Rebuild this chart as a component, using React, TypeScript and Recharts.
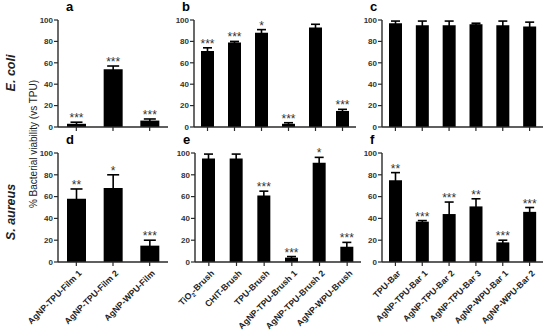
import { BarChart, Bar, XAxis, YAxis, ErrorBar, LabelList } from 'recharts';
import type { JSX } from 'react';

// categories
const filmLabels = ['AgNP-TPU-Film 1', 'AgNP-TPU-Film 2', 'AgNP-WPU-Film'];
const brushLabels = ['TiO2-Brush', 'CHIT-Brush', 'TPU-Brush', 'AgNP-TPU-Brush 1', 'AgNP-TPU-Brush 2', 'AgNP-WPU-Brush'];
const barLabels = ['TPU-Bar', 'AgNP-TPU-Bar 1', 'AgNP-TPU-Bar 2', 'AgNP-TPU-Bar 3', 'AgNP-WPU-Bar 1', 'AgNP-WPU-Bar 2'];
const yTicks = [0, 20, 40, 60, 80, 100];

// E. coli
const ecoliFilm = [3, 54, 6];
const ecoliFilmErr = [1.5, 3, 1.5];
const ecoliFilmStars = ['***', '***', '***'];
const ecoliBrush = [71, 79, 88, 3, 93, 15];
const ecoliBrushErr = [3, 1, 3, 1, 3, 1.5];
const ecoliBrushStars = ['***', '***', '*', '***', '', '***'];
const ecoliBar = [97, 95, 95, 96, 95, 94];
const ecoliBarErr = [2, 4, 4, 1, 4, 4];
const ecoliBarStars = ['', '', '', '', '', ''];

// S. aureus
const aureusFilm = [58, 68, 15];
const aureusFilmErr = [9, 12, 5];
const aureusFilmStars = ['**', '*', '***'];
const aureusBrush = [95, 95, 61, 4, 91, 14];
const aureusBrushErr = [4, 4, 4, 1, 5, 4];
const aureusBrushStars = ['', '', '***', '***', '*', '***'];
const aureusBar = [75, 37, 44, 51, 18, 46];
const aureusBarErr = [7, 1, 11, 7, 2, 4];
const aureusBarStars = ['**', '***', '***', '**', '***', '***'];

const FONT = '"Liberation Sans", Arial, sans-serif';
const AXIS = '#2a2a2a';

interface TickProps {
  x?: number;
  y?: number;
  payload?: { value?: string };
}

function NoTick(): JSX.Element {
  return <g />;
}

function RotTick({ x = 0, y = 0, payload }: TickProps): JSX.Element {
  const label = String(payload?.value ?? '');
  const isTio = label.startsWith('TiO2');
  return (
    <g transform={`translate(${x + 3},${y + 3}) rotate(-45)`}>
      <text x={0} y={0} dy={4} textAnchor="end" fontSize={8.7} fontWeight="bold" fill="#222" fontFamily={FONT}>
        {isTio ? (
          <>
            TiO<tspan dy={2} fontSize={6}>2</tspan><tspan dy={-2}>{label.slice(4)}</tspan>
          </>
        ) : label}
      </text>
    </g>
  );
}

interface PanelProps {
  letter: string;
  left: number;
  top: number;
  plotW: number;
  plotH: number;
  labels: string[];
  values: number[];
  errors: number[];
  stars: string[];
  showLabels: boolean;
  cap: number;
  barSize: number;
}

function Panel({ letter, left, top, plotW, plotH, labels, values, errors, stars, showLabels, cap, barSize }: PanelProps): JSX.Element {
  const padL = 40;
  const padT = 12;
  const padR = 6;
  const bottom = showLabels ? 70 : 8;
  const data = labels.map((name, i) => ({ name, value: values[i], err: errors[i], star: stars[i] }));

  return (
    <div style={{ position: 'absolute', left: left - padL, top: top - padT }}>
      <BarChart
        width={plotW + padL + padR}
        height={plotH + padT + bottom}
        data={data}
        margin={{ top: padT, right: padR, left: 0, bottom: 0 }}
      >
        <XAxis
          dataKey="name"
          height={bottom}
          interval={0}
          tickSize={4}
          axisLine={{ stroke: AXIS, strokeWidth: 1.4 }}
          tickLine={{ stroke: AXIS, strokeWidth: 1.2 }}
          tick={showLabels ? <RotTick /> : <NoTick />}
        />
        <YAxis
          width={padL}
          domain={[0, 100]}
          ticks={yTicks}
          interval={0}
          tickSize={4}
          tickMargin={1}
          axisLine={{ stroke: AXIS, strokeWidth: 1.4 }}
          tickLine={{ stroke: AXIS, strokeWidth: 1.2 }}
          tick={{ fontSize: 8, fontWeight: 'bold', fill: '#333', fontFamily: FONT }}
        />
        <Bar dataKey="value" stackId="s" fill="#000" barSize={barSize} isAnimationActive={false}>
          <ErrorBar dataKey="err" width={cap} stroke="#000" strokeWidth={1.6} direction="y" />
        </Bar>
        <Bar dataKey="err" stackId="s" fill="transparent" barSize={barSize} isAnimationActive={false}>
          <LabelList dataKey="star" position="top" offset={0} fill="#333" fontSize={12} fontFamily={FONT} />
        </Bar>
      </BarChart>
      <div
        style={{
          position: 'absolute',
          left: padL + (letter === 'a' || letter === 'd' ? 8 : -12),
          top: padT - 20,
          fontFamily: FONT,
          fontWeight: 'bold',
          fontSize: 13,
          lineHeight: '13px',
        }}
      >
        {letter}
      </div>
    </div>
  );
}

export default function App(): JSX.Element {
  return (
    <div style={{ position: 'absolute', left: 0, top: 0, width: 550, height: 330, background: '#fff', overflow: 'hidden' }}>
      <Panel letter="a" left={58} top={20} plotW={110} plotH={107} labels={filmLabels} values={ecoliFilm} errors={ecoliFilmErr} stars={ecoliFilmStars} showLabels={false} cap={6} barSize={19} />
      <Panel letter="b" left={194} top={20} plotW={162} plotH={107} labels={brushLabels} values={ecoliBrush} errors={ecoliBrushErr} stars={ecoliBrushStars} showLabels={false} cap={4.5} barSize={13} />
      <Panel letter="c" left={382} top={20} plotW={161} plotH={107} labels={barLabels} values={ecoliBar} errors={ecoliBarErr} stars={ecoliBarStars} showLabels={false} cap={4.5} barSize={13} />
      <Panel letter="d" left={58} top={153} plotW={110} plotH={109} labels={filmLabels} values={aureusFilm} errors={aureusFilmErr} stars={aureusFilmStars} showLabels cap={6} barSize={19} />
      <Panel letter="e" left={195} top={153} plotW={166} plotH={109} labels={brushLabels} values={aureusBrush} errors={aureusBrushErr} stars={aureusBrushStars} showLabels cap={4.5} barSize={13} />
      <Panel letter="f" left={382} top={153} plotW={161} plotH={109} labels={barLabels} values={aureusBar} errors={aureusBarErr} stars={aureusBarStars} showLabels cap={4.5} barSize={13} />
      <svg width={550} height={330} style={{ position: 'absolute', left: 0, top: 0, pointerEvents: 'none' }}>
        <text transform="translate(15,73) rotate(-90)" textAnchor="middle" fontSize={12.5} fontWeight="bold" fontStyle="italic" fontFamily={FONT} fill="#222">
          E. coli
        </text>
        <text transform="translate(15,212) rotate(-90)" textAnchor="middle" fontSize={12.5} fontWeight="bold" fontStyle="italic" fontFamily={FONT} fill="#222">
          S. aureus
        </text>
        <text transform="translate(37,144) rotate(-90)" textAnchor="middle" fontSize={10} fontFamily={FONT} fill="#222">
          % Bacterial viability (vs TPU)
        </text>
      </svg>
    </div>
  );
}
